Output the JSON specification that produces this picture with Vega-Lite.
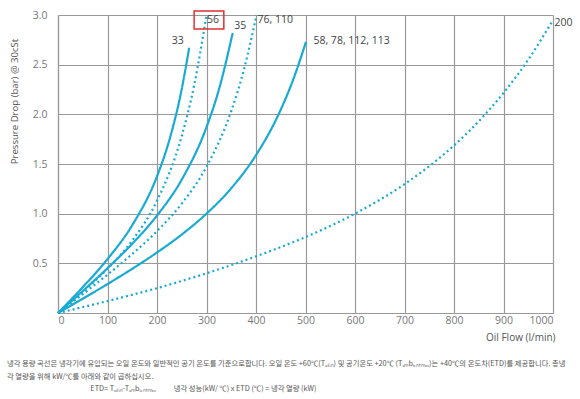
{
  "$schema": "https://vega.github.io/schema/vega-lite/v6.json",
  "width": 495,
  "height": 298,
  "autosize": {"type": "none"},
  "padding": {"left": 58, "top": 15, "right": 27, "bottom": 86},
  "background": "white",
  "config": {"view": {"stroke": null}, "font": "Open Sans"},
  "title": {
    "text": [
      "냉각 용량 곡선은 냉각기에 유입되는 오일 온도와 일반적인 공기 온도를 기준으로합니다. 오일 온도 +60℃(Tₒᵢₗᵢₙ)  및 공기온도 +20℃ (Tₐₘbᵢₑₙₜₘₐₓ)는  +40℃의 온도차(ETD)를  제공합니다. 총냉",
      "각 열량을 위해 kW/℃를 아래와 같이 곱하십시오.",
      "\u200b\u00a0\u00a0\u00a0\u00a0\u00a0\u00a0\u00a0\u00a0\u00a0\u00a0\u00a0\u00a0\u00a0\u00a0\u00a0\u00a0\u00a0\u00a0\u00a0\u00a0\u00a0\u00a0\u00a0\u00a0\u00a0\u00a0\u00a0\u00a0\u00a0\u00a0\u00a0\u00a0\u00a0\u00a0\u00a0\u00a0\u00a0\u00a0\u00a0\u00a0\u00a0\u00a0\u00a0\u00a0\u00a0\u00a0\u00a0\u00a0\u00a0\u00a0\u00a0ETD= Tₒᵢₗᵢₙ-Tₐₘbᵢₑₙₜₘₐₓ\u00a0\u00a0\u00a0\u00a0\u00a0\u00a0\u00a0\u00a0\u00a0\u00a0\u00a0냉각 성능(kW/ ℃) x ETD (℃) = 냉각 열량 (kW)"
    ],
    "orient": "bottom",
    "anchor": "start",
    "frame": "group",
    "dx": -51,
    "offset": 18,
    "fontSize": 7.3,
    "fontWeight": "normal",
    "color": "#555555",
    "lineHeight": 12.5,
    "font": "Noto Sans CJK KR"
  },
  "data": {
    "values": [
      {"s": "33", "t": "solid", "x": 0, "y": 0},
      {"s": "33", "t": "solid", "x": 50, "y": 0.26},
      {"s": "33", "t": "solid", "x": 100, "y": 0.543},
      {"s": "33", "t": "solid", "x": 150, "y": 0.884},
      {"s": "33", "t": "solid", "x": 200, "y": 1.376},
      {"s": "33", "t": "solid", "x": 225, "y": 1.742},
      {"s": "33", "t": "solid", "x": 250, "y": 2.255},
      {"s": "33", "t": "solid", "x": 265, "y": 2.67},
      {"s": "56", "t": "dotted", "x": 0, "y": 0},
      {"s": "56", "t": "dotted", "x": 50, "y": 0.211},
      {"s": "56", "t": "dotted", "x": 100, "y": 0.445},
      {"s": "56", "t": "dotted", "x": 150, "y": 0.73},
      {"s": "56", "t": "dotted", "x": 200, "y": 1.13},
      {"s": "56", "t": "dotted", "x": 250, "y": 1.783},
      {"s": "56", "t": "dotted", "x": 275, "y": 2.29},
      {"s": "56", "t": "dotted", "x": 300, "y": 3.0},
      {"s": "35", "t": "solid", "x": 0, "y": 0},
      {"s": "35", "t": "solid", "x": 50, "y": 0.221},
      {"s": "35", "t": "solid", "x": 100, "y": 0.451},
      {"s": "35", "t": "solid", "x": 150, "y": 0.697},
      {"s": "35", "t": "solid", "x": 200, "y": 0.981},
      {"s": "35", "t": "solid", "x": 250, "y": 1.343},
      {"s": "35", "t": "solid", "x": 300, "y": 1.871},
      {"s": "35", "t": "solid", "x": 325, "y": 2.248},
      {"s": "35", "t": "solid", "x": 353, "y": 2.82},
      {"s": "76", "t": "dotted", "x": 0, "y": 0},
      {"s": "76", "t": "dotted", "x": 50, "y": 0.19},
      {"s": "76", "t": "dotted", "x": 100, "y": 0.386},
      {"s": "76", "t": "dotted", "x": 150, "y": 0.594},
      {"s": "76", "t": "dotted", "x": 200, "y": 0.824},
      {"s": "76", "t": "dotted", "x": 250, "y": 1.101},
      {"s": "76", "t": "dotted", "x": 300, "y": 1.473},
      {"s": "76", "t": "dotted", "x": 350, "y": 2.033},
      {"s": "76", "t": "dotted", "x": 375, "y": 2.438},
      {"s": "76", "t": "dotted", "x": 401, "y": 3.0},
      {"s": "58", "t": "solid", "x": 0, "y": 0},
      {"s": "58", "t": "solid", "x": 50, "y": 0.144},
      {"s": "58", "t": "solid", "x": 100, "y": 0.291},
      {"s": "58", "t": "solid", "x": 150, "y": 0.445},
      {"s": "58", "t": "solid", "x": 200, "y": 0.609},
      {"s": "58", "t": "solid", "x": 250, "y": 0.79},
      {"s": "58", "t": "solid", "x": 300, "y": 1.0},
      {"s": "58", "t": "solid", "x": 350, "y": 1.256},
      {"s": "58", "t": "solid", "x": 400, "y": 1.589},
      {"s": "58", "t": "solid", "x": 450, "y": 2.047},
      {"s": "58", "t": "solid", "x": 475, "y": 2.348},
      {"s": "58", "t": "solid", "x": 501, "y": 2.73},
      {"s": "200", "t": "dotted", "x": 0, "y": 0},
      {"s": "200", "t": "dotted", "x": 100, "y": 0.12},
      {"s": "200", "t": "dotted", "x": 200, "y": 0.25},
      {"s": "200", "t": "dotted", "x": 300, "y": 0.4},
      {"s": "200", "t": "dotted", "x": 400, "y": 0.57},
      {"s": "200", "t": "dotted", "x": 500, "y": 0.765},
      {"s": "200", "t": "dotted", "x": 600, "y": 1.0},
      {"s": "200", "t": "dotted", "x": 700, "y": 1.297},
      {"s": "200", "t": "dotted", "x": 800, "y": 1.687},
      {"s": "200", "t": "dotted", "x": 850, "y": 1.93},
      {"s": "200", "t": "dotted", "x": 900, "y": 2.215},
      {"s": "200", "t": "dotted", "x": 950, "y": 2.55},
      {"s": "200", "t": "dotted", "x": 1000, "y": 2.95}
    ]
  },
  "layer": [
    {
      "mark": {"type": "line", "interpolate": "monotone", "color": "#19aad4", "strokeWidth": 2.2, "clip": false},
      "encoding": {
        "x": {
          "field": "x", "type": "quantitative",
          "scale": {"domain": [0, 1000], "nice": false},
          "axis": {
            "values": [0, 100, 200, 300, 400, 500, 600, 700, 800, 900, 1000],
            "format": "d",
            "title": "Oil Flow (l/min)",
            "titleAnchor": "end",
            "titleAlign": "right",
            "titleBaseline": "top",
            "titleX": 497,
            "titleY": 19,
            "titleFontSize": 10,
            "titleFontWeight": "normal",
            "titleColor": "#555555",
            "labelFontSize": 10.5,
            "labelColor": "#777777",
            "labelPadding": 2,
            "grid": true,
            "gridColor": "#999999",
            "gridWidth": 1.2,
            "domainColor": "#999999",
            "domainWidth": 1.2,
            "ticks": false
          }
        },
        "y": {
          "field": "y", "type": "quantitative",
          "scale": {"domain": [0, 3], "nice": false},
          "axis": {
            "values": [0, 0.5, 1.0, 1.5, 2.0, 2.5, 3.0],
            "labelExpr": "datum.value == 0 ? '' : format(datum.value, '.1f')",
            "title": "Pressure Drop (bar) @ 30cSt",
            "titleAnchor": "middle",
            "titleAngle": -90,
            "titleAlign": "center",
            "titleBaseline": "middle",
            "titleX": -44,
            "titleY": 86,
            "titleFontSize": 9.6,
            "titleFontWeight": "normal",
            "titleColor": "#555555",
            "labelFontSize": 10.5,
            "labelColor": "#777777",
            "labelPadding": 11,
            "grid": true,
            "gridColor": "#999999",
            "gridWidth": 1.2,
            "domainColor": "#999999",
            "domainWidth": 1.2,
            "ticks": false
          }
        },
        "detail": {"field": "s"},
        "strokeDash": {
          "field": "t", "type": "nominal",
          "scale": {"domain": ["solid", "dotted"], "range": [[1, 0], [2, 3]]},
          "legend": null
        }
      }
    },
    {
      "data": {"values": [{"x1": 275, "x2": 335, "y1": 3.04, "y2": 2.86}]},
      "mark": {"type": "rect", "fill": null, "stroke": "#e03030", "strokeWidth": 1.5, "clip": false},
      "encoding": {
        "x": {"field": "x1", "type": "quantitative"},
        "x2": {"field": "x2"},
        "y": {"field": "y1", "type": "quantitative"},
        "y2": {"field": "y2"}
      }
    },
    {
      "data": {"values": [
        {"label": "33", "x": 242, "y": 2.74},
        {"label": "56", "x": 313, "y": 2.95},
        {"label": "35", "x": 368, "y": 2.89}
      ]},
      "mark": {"type": "text", "fontSize": 10.5, "color": "#444444", "baseline": "middle", "align": "center", "clip": false},
      "encoding": {
        "x": {"field": "x", "type": "quantitative"},
        "y": {"field": "y", "type": "quantitative"},
        "text": {"field": "label"}
      }
    },
    {
      "data": {"values": [
        {"label": "76, 110", "x": 403, "y": 2.95},
        {"label": "58, 78, 112, 113", "x": 516, "y": 2.74},
        {"label": "200", "x": 1003, "y": 2.92}
      ]},
      "mark": {"type": "text", "fontSize": 10.5, "color": "#444444", "baseline": "middle", "align": "left", "clip": false},
      "encoding": {
        "x": {"field": "x", "type": "quantitative"},
        "y": {"field": "y", "type": "quantitative"},
        "text": {"field": "label"}
      }
    }
  ]
}
